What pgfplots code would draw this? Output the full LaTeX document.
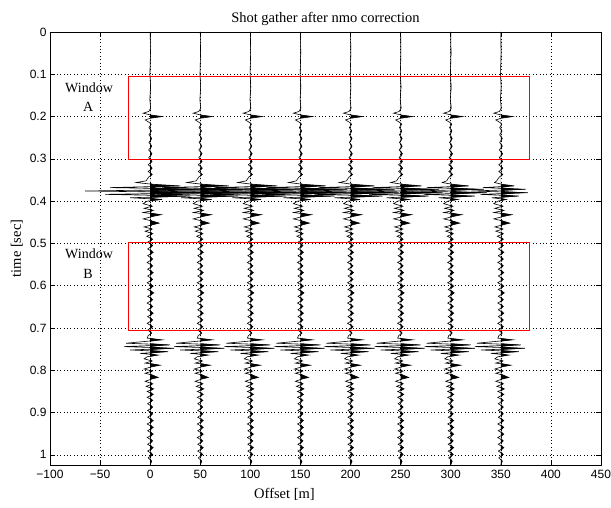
\documentclass[border=0pt]{standalone}
\usepackage{fontspec}
\setmainfont{Liberation Serif}
\newfontfamily\sansf{Liberation Sans}
\usepackage{pgfplots}
\usepackage{pgfplotstable}
\pgfplotsset{compat=1.18}

\pgfplotstableread{
t a
0 0
0.05 0.3
0.10 -0.3
0.13 0.4
0.16 -0.4
0.180 0.5
0.188 -1.5
0.192 -7
0.196 0
0.200 12
0.204 0
0.208 -5
0.213 -1.5
0.218 1
0.226 -1.2
0.234 1.2
0.243 -1.2
0.252 1.5
0.261 -1.2
0.270 1.5
0.279 -1.5
0.288 1.8
0.297 -1.5
0.306 1.8
0.314 -2
0.322 2
0.330 -2
0.337 2
0.343 -1.5
0.348 -3
0.352 -4
}\baseA

\pgfplotstableread{
t e0 e1 e2 e3 e4 e5 e6 e7
0.352 -4 -4 -4 -4 -4 -4 -4 -4
0.356 -14 -13.3 -12.6 -11.9 -11.2 -9.8 -8.4 -6.3
0.360 2 1.9 1.8 1.7 1.6 1.4 1.2 0.9
0.364 30 28.5 27 25.5 24 21 18 13.5
0.368 -40 -38 -36 -34 -32 -28 -24 -18
0.372 55 52.3 49.5 46.8 44 38.5 33 24.8
0.376 -65 -61.8 -58.5 -55.3 -52 -45.5 -39 -29.3
0.380 60 57 54 51 48 42 36 27
0.384 -45 -42.8 -40.5 -38.3 -36 -31.5 -27 -20.3
0.388 40 38 36 34 32 28 24 18
0.392 -20 -19 -18 -17 -16 -14 -12 -9
0.396 12 11.4 10.8 10.2 9.6 8.4 7.2 5.4
0.400 -3 -3 -3 -3 -3 -3 -3 -3
}\evA

\pgfplotstableread{
t a
0.400 -3
0.406 -7
0.412 2
0.417 -6
0.422 3
0.427 -7
0.432 11
0.437 1
0.442 -7
0.447 2
0.452 9
0.456 2
0.461 -6
0.466 2
0.471 -5
0.477 2.5
0.483 -3.5
0.490 2.5
0.497 -2.5
0.505 2.5
0.513 -2.5
0.521 3
0.529 -2.5
0.537 2.5
0.545 -3
0.553 2.5
0.561 -2.5
0.569 3
0.577 -2.5
0.585 2.5
0.593 -3
0.601 3
0.609 -2.5
0.617 3.5
0.625 -2.5
0.633 2.5
0.641 -3
0.649 2.5
0.657 -2.5
0.665 3
0.673 -2.5
0.681 2.5
0.689 -3
0.697 2.5
0.705 -2.5
0.712 1.5
0.718 -2
0.724 -3
0.728 12
0.732 -6
0.736 -24
0.740 20
0.744 -26
0.748 24
0.752 -20
0.756 18
0.760 -10
0.764 8
0.768 -3
0.773 -6
0.778 2
0.783 -5
0.788 10
0.792 1
0.797 -6
0.802 2
0.807 -5
0.812 3
0.817 8
0.821 1
0.826 -5
0.832 2.5
0.838 -4
0.844 3.5
0.850 -3
0.857 3
0.864 -3
0.871 2.5
0.879 -2.5
0.887 2.5
0.895 -2.5
0.903 2.5
0.911 -2.5
0.919 3
0.927 -3
0.935 3
0.943 -2.5
0.951 3
0.959 -3
0.967 2.5
0.975 -2.5
0.983 3
0.991 -2.5
0.999 2.5
1.007 -2
1.015 1.5
1.024 0
}\baseB

\begin{document}
\begin{tikzpicture}
\begin{axis}[
  scale only axis,
  width=551pt, height=433pt,
  xmin=-100, xmax=450,
  ymin=0, ymax=1.024,
  y dir=reverse,
  xtick={-100,-50,...,450},
  xticklabels={−100,−50,0,50,100,150,200,250,300,350,400,450},
  ytick={0,0.1,0.2,0.3,0.4,0.5,0.6,0.7,0.8,0.9,1},
  yticklabels={0,0.1,0.2,0.3,0.4,0.5,0.6,0.7,0.8,0.9,1},
  tick align=inside,
  major tick length=5pt,
  tick style={black, line width=0.5pt},
  ticklabel style={font=\sansf\fontsize{12}{14}\selectfont},
  xticklabel style={yshift=-2pt},
  grid=major,
  grid style={black, line width=0.5pt, dash pattern=on 0.8pt off 2.6pt},
  axis line style={line width=0.7pt},
  title={Shot gather after nmo correction},
  title style={font=\fontsize{14.5}{16}\selectfont, yshift=-3pt},
  xlabel={Offset [m]},
  ylabel={time [sec]},
  label style={font=\fontsize{14.5}{16}\selectfont},
  xlabel style={xshift=-41pt, yshift=-2pt},
  ylabel style={yshift=0pt},
]
\pgfplotsinvokeforeach{0,...,7}{
  \addplot[fill=black, draw=none] table[x expr={max(\thisrow{a},0)+50*#1}, y=t] {\baseA};
  \addplot[fill=black, draw=none] table[x expr={max(\thisrow{e#1},0)+50*#1}, y=t] {\evA};
  \addplot[fill=black, draw=none] table[x expr={max(\thisrow{a},0)+50*#1}, y=t] {\baseB};
  \addplot[black, line width=0.6pt] table[x expr={\thisrow{a}+50*#1}, y=t] {\baseA};
  \addplot[black, line width=0.6pt] table[x expr={\thisrow{e#1}+50*#1}, y=t] {\evA};
  \addplot[black, line width=0.6pt] table[x expr={\thisrow{a}+50*#1}, y=t] {\baseB};
}
\addplot[red, line width=0.7pt] coordinates {(-22,0.104) (378,0.104) (378,0.302) (-22,0.302) (-22,0.104)};
\addplot[red, line width=0.7pt] coordinates {(-22,0.497) (378,0.497) (378,0.706) (-22,0.706) (-22,0.497)};
\node[font=\fontsize{14}{16}\selectfont] at (axis cs:-61,0.132) {Window};
\node[font=\fontsize{14}{16}\selectfont] at (axis cs:-62,0.177) {A};
\node[font=\fontsize{14}{16}\selectfont] at (axis cs:-61,0.525) {Window};
\node[font=\fontsize{14}{16}\selectfont] at (axis cs:-62,0.573) {B};
\end{axis}
\pgfresetboundingbox
\path ([shift={(-50pt,-43pt)}]current axis.south west) rectangle ([shift={(10pt,32pt)}]current axis.north east);
\end{tikzpicture}
\end{document}
